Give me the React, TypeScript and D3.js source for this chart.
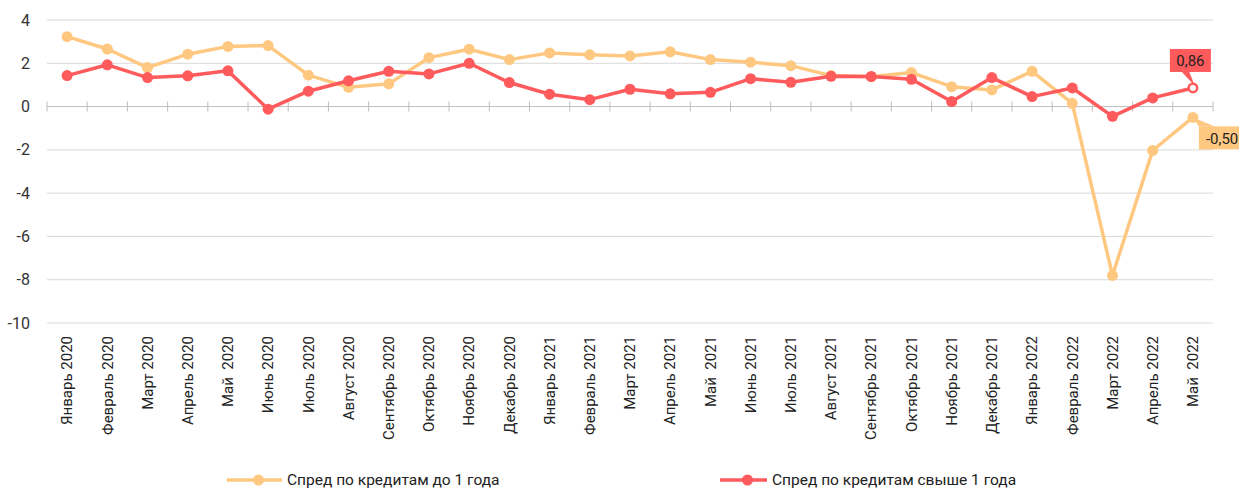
import * as React from 'react';
import {useEffect, useRef} from 'react';
import * as d3 from 'd3';

const months = [
  'Январь 2020', 'Февраль 2020', 'Март 2020', 'Апрель 2020', 'Май  2020', 'Июнь 2020',
  'Июль 2020', 'Август 2020', 'Сентябрь 2020', 'Октябрь 2020', 'Ноябрь 2020', 'Декабрь 2020',
  'Январь 2021', 'Февраль 2021', 'Март 2021', 'Апрель 2021', 'Май  2021', 'Июнь 2021',
  'Июль 2021', 'Август 2021', 'Сентябрь 2021', 'Октябрь 2021', 'Ноябрь 2021', 'Декабрь 2021',
  'Январь 2022', 'Февраль 2022', 'Март 2022', 'Апрель 2022', 'Май  2022'
];

const shortSpread = [
  3.23, 2.66, 1.8, 2.42, 2.78, 2.82, 1.45, 0.89, 1.05, 2.26, 2.65, 2.17,
  2.48, 2.39, 2.34, 2.53, 2.17, 2.05, 1.89, 1.43, 1.38, 1.57, 0.92, 0.77,
  1.63, 0.15, -7.8, -2.03, -0.5
];

const longSpread = [
  1.43, 1.93, 1.34, 1.42, 1.65, -0.12, 0.71, 1.19, 1.63, 1.51, 2.0, 1.11,
  0.57, 0.32, 0.8, 0.59, 0.66, 1.29, 1.12, 1.4, 1.39, 1.26, 0.23, 1.34,
  0.46, 0.86, -0.45, 0.4, 0.86
];

const yTicks = [4, 2, 0, -2, -4, -6, -8, -10];

const seriesNames = ['Спред по кредитам до 1 года', 'Спред по кредитам свыше 1 года'];
const colors = ['#FFC880', '#FF5A5C'];

const W = 1239;
const H = 491;
const FONT = 'Roboto, sans-serif';

export default function App() {
  const ref = useRef<SVGSVGElement>(null);

  useEffect(() => {
    const svg = d3.select(ref.current);
    svg.selectAll('*').remove();

    const left = 47, right = 1213, top = 20, bottom = 323;

    const x = d3.scaleBand<string>().domain(months).range([left, right]);
    const y = d3.scaleLinear().domain([-10, 4]).range([bottom, top]);
    const cx = (i: number) => (x(months[i]) as number) + x.bandwidth() / 2;

    // gridlines
    svg.append('g')
      .selectAll('line')
      .data(yTicks.filter(t => t !== 0))
      .join('line')
      .attr('x1', left).attr('x2', right)
      .attr('y1', d => y(d)).attr('y2', d => y(d))
      .attr('stroke', '#d9d9d9').attr('stroke-width', 1);

    // y labels
    svg.append('g')
      .selectAll('text')
      .data(yTicks)
      .join('text')
      .attr('x', 30)
      .attr('y', d => y(d))
      .attr('dy', '0.35em')
      .attr('text-anchor', 'end')
      .attr('font-family', FONT)
      .attr('font-size', 16)
      .attr('fill', '#333')
      .text(d => String(d));

    // zero axis with ticks at band boundaries
    const axis = svg.append('g').attr('transform', `translate(0,${y(0)})`);
    axis.append('line')
      .attr('x1', left).attr('x2', right)
      .attr('stroke', '#bfbfbf').attr('stroke-width', 1);
    axis.selectAll('line.tick')
      .data(d3.range(months.length + 1))
      .join('line')
      .attr('class', 'tick')
      .attr('x1', i => left + i * x.step()).attr('x2', i => left + i * x.step())
      .attr('y1', -5).attr('y2', 5)
      .attr('stroke', '#bfbfbf').attr('stroke-width', 1);

    // x labels
    svg.append('g')
      .selectAll('text')
      .data(months)
      .join('text')
      .attr('transform', (d, i) => `translate(${cx(i)},336) rotate(-90)`)
      .attr('dy', '0.35em')
      .attr('text-anchor', 'end')
      .attr('font-family', FONT)
      .attr('font-size', 15)
      .attr('fill', '#222')
      .style('white-space', 'pre')
      .text(d => d);

    const line = d3.line<number>()
      .x((d, i) => cx(i))
      .y(d => y(d));

    [shortSpread, longSpread].forEach((data, k) => {
      const g = svg.append('g');
      g.append('path')
        .datum(data)
        .attr('d', line)
        .attr('fill', 'none')
        .attr('stroke', colors[k])
        .attr('stroke-width', 3.5)
        .attr('stroke-linejoin', 'round');
      g.selectAll('circle')
        .data(data)
        .join('circle')
        .attr('cx', (d, i) => cx(i))
        .attr('cy', d => y(d))
        .attr('r', 5.5)
        .attr('fill', colors[k]);
    });

    // callout labels for last values
    const last = months.length - 1;
    const fmt = (v: number) => v.toFixed(2).replace('.', ',');

    // red callout above
    const rx = cx(last), ry = y(longSpread[last]);
    const rg = svg.append('g');
    rg.append('path')
      .attr('d', `M${rx - 12},${ry - 17} L${rx + 2},${ry - 2} L${rx - 4},${ry - 17} Z`)
      .attr('fill', colors[1]);
    rg.append('rect')
      .attr('x', rx - 23).attr('y', ry - 39)
      .attr('width', 41).attr('height', 23)
      .attr('fill', colors[1]);
    rg.append('circle')
      .attr('cx', rx).attr('cy', ry).attr('r', 4)
      .attr('fill', '#fff').attr('stroke', colors[1]).attr('stroke-width', 2);
    rg.append('text')
      .attr('x', rx - 2.5).attr('y', ry - 27)
      .attr('dy', '0.35em')
      .attr('text-anchor', 'middle')
      .attr('font-family', FONT)
      .attr('font-size', 15)
      .attr('fill', '#222')
      .text(fmt(longSpread[last]));

    // yellow callout to the lower right
    const yx = cx(last), yy = y(shortSpread[last]);
    const yg = svg.append('g');
    yg.append('path')
      .attr('d', `M${yx + 6},${yy + 9} L${yx},${yy} L${yx + 22},${yy + 9} Z`)
      .attr('fill', colors[0]);
    yg.append('rect')
      .attr('x', yx + 6).attr('y', yy + 9)
      .attr('width', 50).attr('height', 23)
      .attr('fill', colors[0]);
    yg.append('text')
      .attr('x', yx + 13).attr('y', yy + 21)
      .attr('dy', '0.35em')
      .attr('font-family', FONT)
      .attr('font-size', 15)
      .attr('fill', '#222')
      .text(fmt(shortSpread[last]));

    // legend
    const legendX = [227, 720];
    const legend = svg.append('g');
    seriesNames.forEach((name, k) => {
      const lx = legendX[k];
      const lw = k === 0 ? 55 : 47;
      legend.append('line')
        .attr('x1', lx).attr('x2', lx + lw)
        .attr('y1', 480).attr('y2', 480)
        .attr('stroke', colors[k]).attr('stroke-width', 3.5);
      legend.append('circle')
        .attr('cx', lx + lw / 2 + 4).attr('cy', 480).attr('r', 5.5)
        .attr('fill', colors[k]);
      legend.append('text')
        .attr('x', lx + lw + 5).attr('y', 480)
        .attr('dy', '0.35em')
        .attr('font-family', FONT)
        .attr('font-size', 15.5)
        .attr('fill', '#222')
        .text(name);
    });
  }, []);

  return (
    <svg ref={ref} width={W} height={H}
      style={{position: 'absolute', left: 0, top: 0, background: '#fff'}}/>
  );
}
